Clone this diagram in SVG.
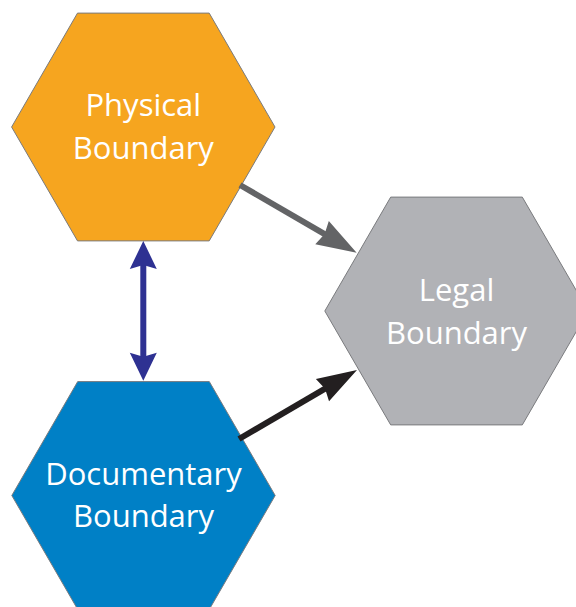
<svg xmlns="http://www.w3.org/2000/svg" width="576" height="607" viewBox="0 0 576 607">
<style>
.hex{stroke:#7a7b7e;stroke-width:1}
.lbl{font-family:"Open Sans","Noto Sans",sans-serif;font-size:31px;fill:#ffffff;text-anchor:middle}
.conn{stroke-width:6;fill:none}
</style>
<defs>
<marker id="hGray" markerUnits="userSpaceOnUse" orient="auto" refX="0" refY="0" markerWidth="60" markerHeight="60" overflow="visible">
<path d="M-10,-13.5 L30,0 L-10,13.5 L-7,0 Z" fill="#636466"/>
</marker>
<marker id="hDark" markerUnits="userSpaceOnUse" orient="auto" refX="0" refY="0" markerWidth="60" markerHeight="60" overflow="visible">
<path d="M-10,-13 L30,0 L-10,13 L-7,0 Z" fill="#231f20"/>
</marker>
<marker id="hBlue" markerUnits="userSpaceOnUse" orient="auto-start-reverse" refX="0" refY="0" markerWidth="60" markerHeight="60" overflow="visible">
<path d="M-8,-13.5 L20,0 L-8,13.5 L-4,0 Z" fill="#2e3192"/>
</marker>
</defs>
<rect width="576" height="607" fill="#ffffff"/>
<g id="physical">
<polygon class="hex" fill="#f6a51f" points="11.6,127 77.5,13.1 209.2,13.1 275,127 209.2,240.9 77.5,240.9"/>
<text class="lbl" x="143.3" y="116">Physical</text>
<text class="lbl" x="143.3" y="159">Boundary</text>
</g>
<g id="legal">
<polygon class="hex" fill="#b1b2b6" points="324.8,311 390.7,197.1 522.3,197.1 588.2,311 522.3,424.9 390.7,424.9"/>
<text class="lbl" x="456.5" y="301">Legal</text>
<text class="lbl" x="456.5" y="344">Boundary</text>
</g>
<g id="documentary">
<polygon class="hex" fill="#0080c6" points="11.8,495.5 77.7,381.6 209.3,381.6 275.2,495.5 209.3,609.4 77.7,609.4"/>
<text class="lbl" x="143.5" y="485">Documentary</text>
<text class="lbl" x="143.5" y="527">Boundary</text>
</g>
<g id="connectors">
<line class="conn" stroke="#636466" x1="240" y1="185" x2="330.7" y2="237.6" marker-end="url(#hGray)"/>
<line class="conn" stroke="#231f20" x1="239" y1="439" x2="331.1" y2="385.1" marker-end="url(#hDark)"/>
<line class="conn" stroke="#2e3192" x1="143.3" y1="261" x2="143.3" y2="360.7" marker-start="url(#hBlue)" marker-end="url(#hBlue)"/>
</g>
</svg>
